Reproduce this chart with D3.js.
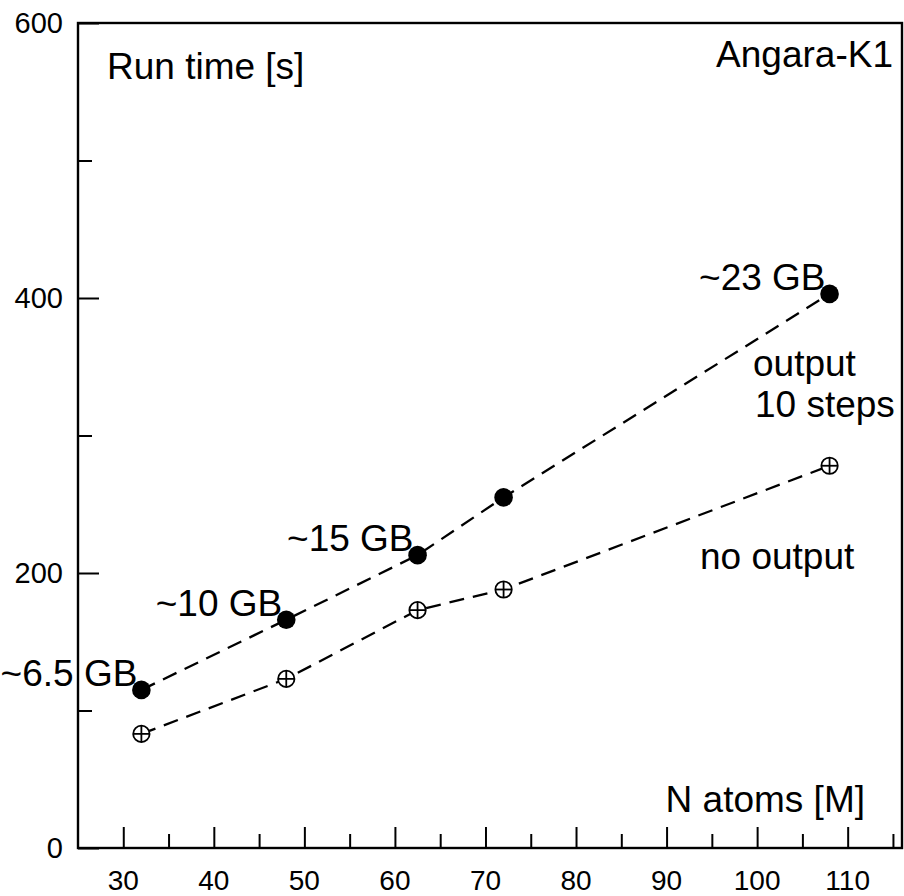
<!DOCTYPE html>
<html>
<head>
<meta charset="utf-8">
<script src="https://cdn.jsdelivr.net/npm/d3@7"></script>
<style>
  html, body { margin: 0; padding: 0; background: #fff; }
  svg { display: block; }
  text { font-family: "Liberation Sans", Arial, Helvetica, sans-serif; fill: #000; }
</style>
</head>
<body>
<svg id="chart" width="904" height="896"></svg>
<script>
// ---- data ----
const atoms = [32, 48, 62.5, 72, 108];            // N atoms [M]
const timeOutput = [115, 166, 213, 255, 403];      // run time, output 10 steps [s]
const timeNoOutput = [83, 123, 173, 188, 278];     // run time, no output [s]
const memLabels = ["~6.5 GB", "~10 GB", "~15 GB", "", "~23 GB"];
const xMajorTicks = [30, 40, 50, 60, 70, 80, 90, 100, 110];
const xMinorTicks = [35, 45, 55, 65, 75, 85, 95, 105, 115];
const yMajorTicks = [0, 200, 400, 600];
const yMinorTicks = [100, 300, 500];

const svg = d3.select("#chart");
const L = 78, R = 902, T = 23, B = 848;

const x = d3.scaleLinear().domain([25, 116]).range([L, R]);
const y = d3.scaleLinear().domain([0, 600]).range([B, T]);

// frame
svg.append("rect").attr("x", L).attr("y", T).attr("width", R - L).attr("height", B - T)
  .attr("fill", "none").attr("stroke", "#000").attr("stroke-width", 2.4);

// x axis (ticks inward)
const xAxisMajor = d3.axisTop(x).tickValues(xMajorTicks).tickSize(21).tickFormat("");
const xAxisMinor = d3.axisTop(x).tickValues(xMinorTicks).tickSize(14).tickFormat("");
[xAxisMajor, xAxisMinor].forEach(ax => {
  const g = svg.append("g").attr("transform", `translate(0,${B})`).call(ax);
  g.select(".domain").remove();
  g.selectAll("line").attr("stroke", "#000").attr("stroke-width", 2);
});
svg.append("g").selectAll("text").data(xMajorTicks).join("text")
  .attr("x", d => x(d)).attr("y", 890)
  .attr("text-anchor", "middle").attr("font-size", 28)
  .text(d => d);

// y axis (ticks inward)
const yAxisMajor = d3.axisRight(y).tickValues(yMajorTicks).tickSize(21).tickFormat("");
const yAxisMinor = d3.axisRight(y).tickValues(yMinorTicks).tickSize(14).tickFormat("");
[yAxisMajor, yAxisMinor].forEach(ax => {
  const g = svg.append("g").attr("transform", `translate(${L},0)`).call(ax);
  g.select(".domain").remove();
  g.selectAll("line").attr("stroke", "#000").attr("stroke-width", 2);
});
svg.append("g").selectAll("text").data(yMajorTicks).join("text")
  .attr("x", 63).attr("y", d => y(d)).attr("dy", "0.35em")
  .attr("text-anchor", "end").attr("font-size", 29)
  .text(d => d);

// lines
const line = d3.line().x(d => x(d[0])).y(d => y(d[1]));
const dataOut = atoms.map((a, i) => [a, timeOutput[i]]);
const dataNo = atoms.map((a, i) => [a, timeNoOutput[i]]);
[dataOut, dataNo].forEach(dat => {
  svg.append("path").datum(dat).attr("d", line)
    .attr("fill", "none").attr("stroke", "#000").attr("stroke-width", 2.3)
    .attr("stroke-dasharray", "15,9");
});

// no-output markers (circle with plus)
const gNo = svg.append("g").selectAll("g").data(dataNo).join("g")
  .attr("transform", d => `translate(${x(d[0])},${y(d[1])})`);
gNo.append("circle").attr("r", 8.2).attr("fill", "#fff").attr("stroke", "#000").attr("stroke-width", 1.8);
gNo.append("line").attr("x1", -8.2).attr("x2", 8.2).attr("stroke", "#000").attr("stroke-width", 1.8);
gNo.append("line").attr("y1", -8.2).attr("y2", 8.2).attr("stroke", "#000").attr("stroke-width", 1.8);

// output markers (filled)
svg.append("g").selectAll("circle").data(dataOut).join("circle")
  .attr("cx", d => x(d[0])).attr("cy", d => y(d[1])).attr("r", 9.3).attr("fill", "#000");

// memory labels
svg.append("g").selectAll("text").data(dataOut.map((d, i) => [d, memLabels[i]]).filter(d => d[1]))
  .join("text")
  .attr("x", d => x(d[0][0]) - 4).attr("y", d => y(d[0][1]) - 4)
  .attr("text-anchor", "end").attr("font-size", 37)
  .text(d => d[1]);

// annotations
svg.append("text").attr("x", 107).attr("y", 79).attr("font-size", 37).text("Run time [s]");
svg.append("text").attr("x", 893).attr("y", 67).attr("text-anchor", "end").attr("font-size", 37).text("Angara-K1");
svg.append("text").attr("x", 865).attr("y", 812).attr("text-anchor", "end").attr("font-size", 37).text("N atoms [M]");
svg.append("text").attr("x", 753).attr("y", 376).attr("font-size", 37).text("output");
svg.append("text").attr("x", 755).attr("y", 417).attr("font-size", 37).text("10 steps");
svg.append("text").attr("x", 700).attr("y", 569).attr("font-size", 37).text("no output");
</script>
</body>
</html>
